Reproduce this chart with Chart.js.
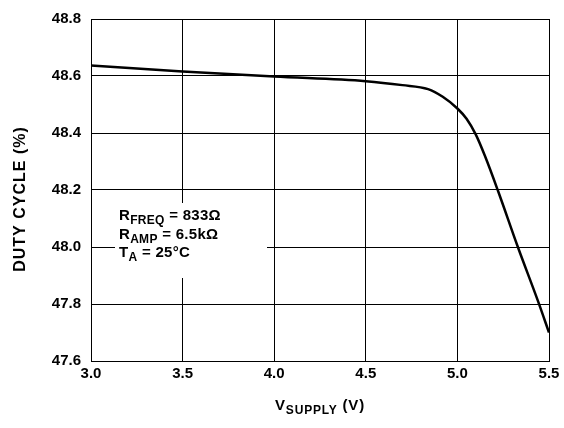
<!DOCTYPE html>
<html>
<head>
<meta charset="utf-8">
<script src="https://cdn.jsdelivr.net/npm/chart.js@4"></script>
<style>
  html, body { margin: 0; padding: 0; background: #fff; }
  #wrap { width: 564px; height: 428px; }
</style>
</head>
<body>
<div id="wrap"><canvas id="chart" width="564" height="428"></canvas></div>
<script>
// Duty cycle vs supply voltage
const supplyVolts = [3.0, 3.5, 4.0, 4.5, 4.7, 4.84, 4.92, 5.0, 5.05, 5.1, 5.15, 5.22, 5.33, 5.44, 5.5];
const dutyCycle = [48.637, 48.616, 48.598, 48.582, 48.568, 48.554, 48.527, 48.486, 48.45, 48.395, 48.32, 48.20, 48.00, 47.81, 47.70];
const xTicks = [3.0, 3.5, 4.0, 4.5, 5.0, 5.5];
const yTicks = [47.6, 47.8, 48.0, 48.2, 48.4, 48.6, 48.8];

const FONT = 'Liberation Sans, Arial, sans-serif';

// draw text with a subscript part, returns end x
function subText(ctx, x, y, main, sub, rest, size, subSize) {
    ctx.font = 'bold ' + size + 'px ' + FONT;
    ctx.fillText(main, x, y);
    x += ctx.measureText(main).width;
    ctx.font = 'bold ' + subSize + 'px ' + FONT;
    ctx.fillText(sub, x, y + 4);
    x += ctx.measureText(sub).width;
    ctx.font = 'bold ' + size + 'px ' + FONT;
    ctx.fillText(rest, x, y);
    return x + ctx.measureText(rest).width;
}

const labelsPlugin = {
    id: 'labels',
    beforeDatasetsDraw(chart) {
        const ctx = chart.ctx;
        ctx.save();
        // note box over the grid
        ctx.fillStyle = '#fff';
        ctx.fillRect(115, 203, 152, 75);
        ctx.fillStyle = '#000';
        ctx.textBaseline = 'alphabetic';
        ctx.textAlign = 'left';
        ctx.letterSpacing = '0.3px';
        subText(ctx, 119, 220, 'R', 'FREQ', ' = 833Ω', 15, 12);
        subText(ctx, 119, 238.5, 'R', 'AMP', ' = 6.5kΩ', 15, 12);
        subText(ctx, 119, 257, 'T', 'A', ' = 25°C', 15, 12);
        ctx.restore();
    },
    afterDraw(chart) {
        const ctx = chart.ctx;
        const area = chart.chartArea;
        ctx.save();
        ctx.fillStyle = '#000';
        ctx.textBaseline = 'alphabetic';
        ctx.textAlign = 'left';
        ctx.letterSpacing = '0.8px';
        // x title, centred under the plot
        ctx.globalAlpha = 0;
        const w = subText(ctx, 0, 0, 'V', 'SUPPLY', ' (V)', 15, 12);
        ctx.globalAlpha = 1;
        const cx = (area.left + area.right) / 2;
        subText(ctx, cx - w / 2, 410, 'V', 'SUPPLY', ' (V)', 15, 12);
        // y title
        ctx.translate(21, 199);
        ctx.rotate(-Math.PI / 2);
        ctx.textAlign = 'center';
        ctx.textBaseline = 'middle';
        ctx.font = 'bold 16px ' + FONT;
        ctx.letterSpacing = '1px';
        ctx.fillText('DUTY CYCLE (%)', 0, 0);
        ctx.restore();
    }
};

new Chart(document.getElementById('chart'), {
    type: 'line',
    data: {
        datasets: [{
            data: supplyVolts.map((v, i) => ({ x: v, y: dutyCycle[i] })),
            borderColor: '#000',
            borderWidth: 2.5,
            pointRadius: 0,
            fill: false,
            cubicInterpolationMode: 'monotone'
        }]
    },
    options: {
        responsive: false,
        animation: false,
        layout: { padding: { top: 15, right: 15, left: 0, bottom: 0 } },
        plugins: { legend: { display: false }, tooltip: { enabled: false } },
        scales: {
            x: {
                type: 'linear',
                min: 3.0,
                max: 5.5,
                afterFit: (scale) => { scale.height = 67; },
                afterBuildTicks: (scale) => { scale.ticks = xTicks.map(v => ({ value: v })); },
                grid: { color: '#000', lineWidth: 1, drawTicks: false },
                border: { color: '#000', width: 1 },
                ticks: {
                    padding: 4,
                    color: '#000',
                    font: { family: FONT, size: 15, weight: 'bold' },
                    callback: (v) => v.toFixed(1)
                }
            },
            y: {
                min: 47.6,
                max: 48.8,
                afterFit: (scale) => { scale.width = 91; },
                afterBuildTicks: (scale) => { scale.ticks = yTicks.map(v => ({ value: v })); },
                grid: { color: '#000', lineWidth: 1, drawTicks: false },
                border: { color: '#000', width: 1 },
                ticks: {
                    padding: 10,
                    color: '#000',
                    font: { family: FONT, size: 15, weight: 'bold' },
                    callback: (v) => v.toFixed(1)
                }
            }
        }
    },
    plugins: [labelsPlugin]
});
</script>
</body>
</html>
